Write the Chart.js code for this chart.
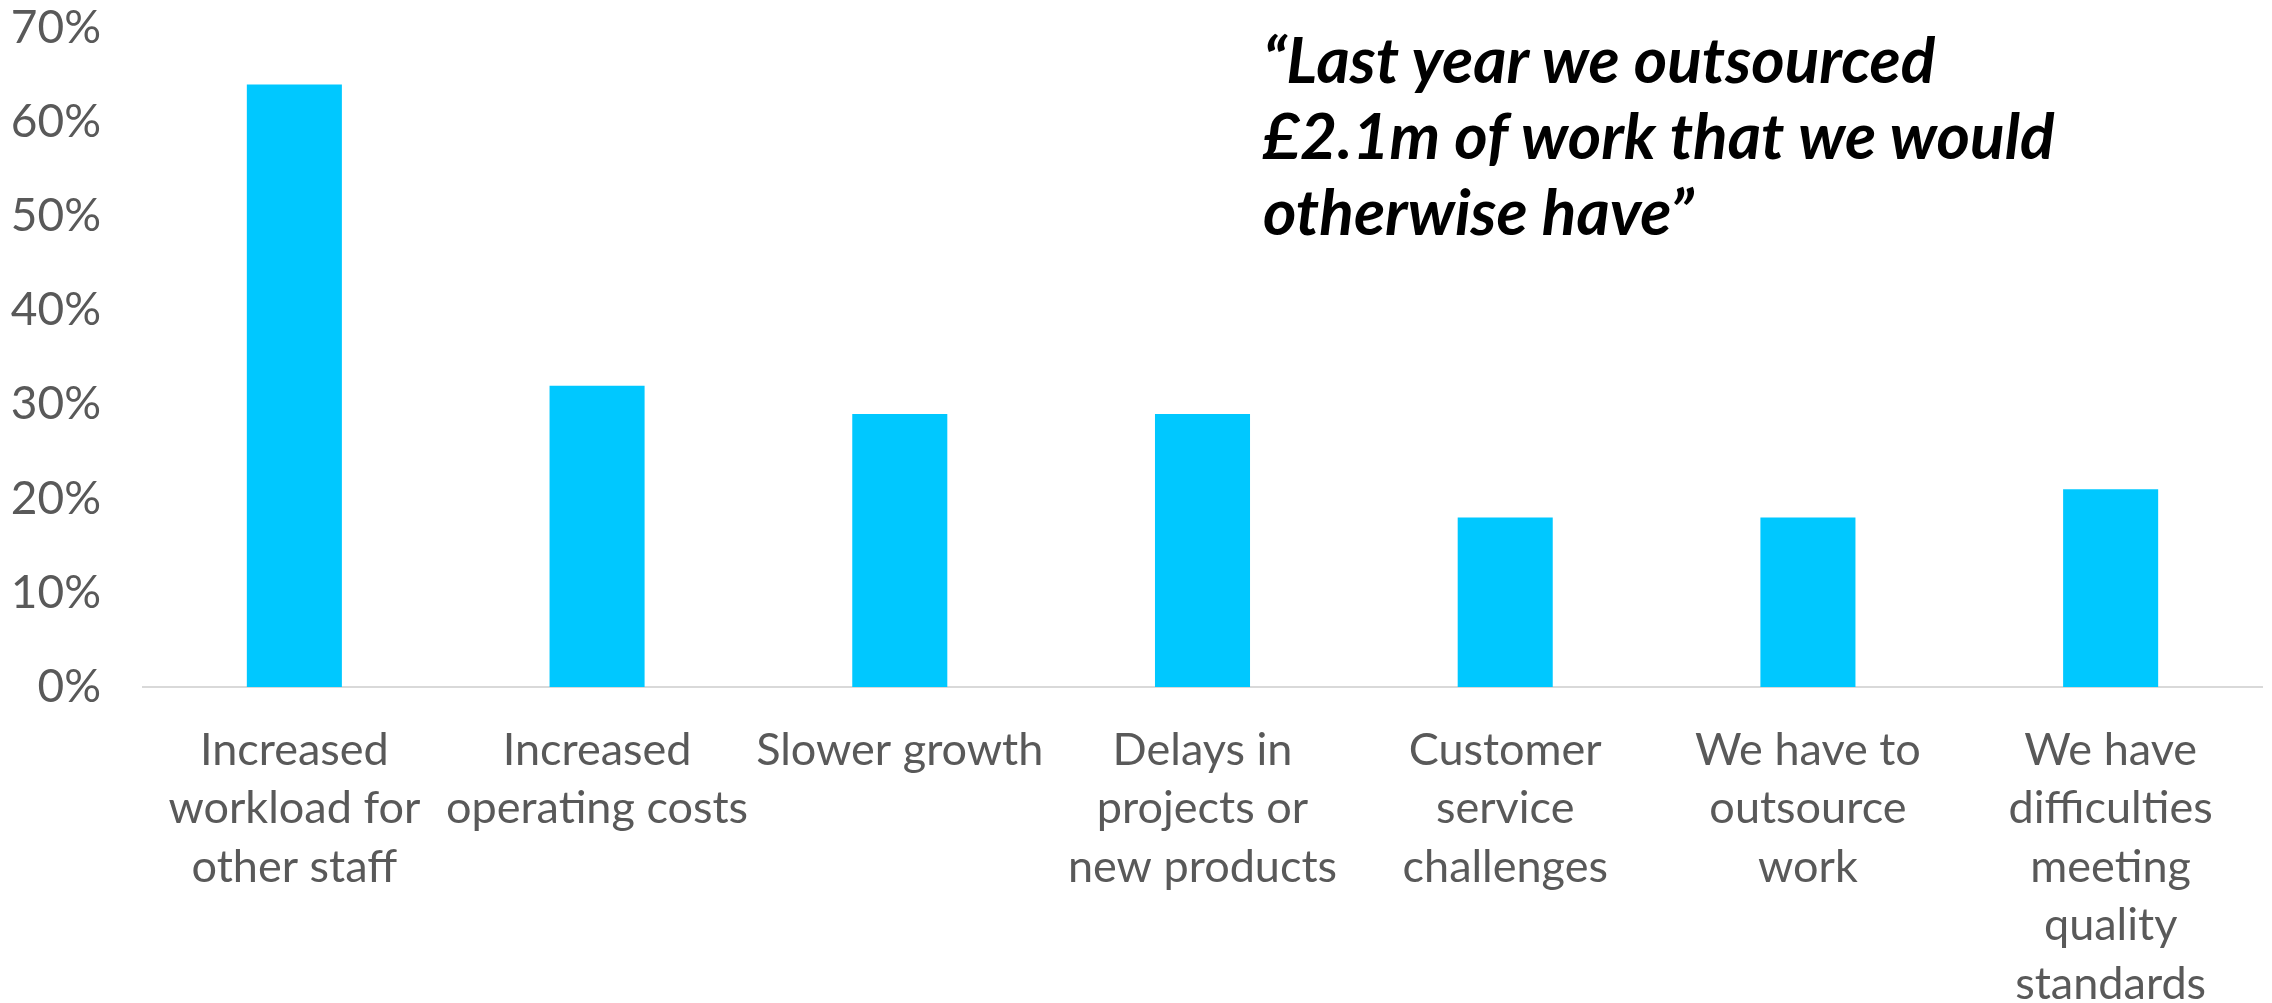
<!DOCTYPE html>
<html>
<head>
<meta charset="utf-8">
<script src="https://cdn.jsdelivr.net/npm/chart.js@4"></script>
<style>
  html, body { margin: 0; padding: 0; background: #fff; }
  #wrap { position: relative; width: 2272px; height: 1003px; }
  #quote {
    position: absolute; left: 1263px; top: 21px;
    font-family: Lato, sans-serif; font-weight: 700; font-style: italic;
    font-size: 64px; line-height: 76px; color: #000;
  }
</style>
</head>
<body>
<div id="wrap">
  <canvas id="chart" width="2272" height="1003"></canvas>
  <div id="quote">“Last year we outsourced<br>£2.1m of work that we would<br>otherwise have”</div>
</div>
<script>
// impacts of unfilled roles, share of respondents (%)
const categories = [
  ['Increased', 'workload for', 'other staff'],
  ['Increased', 'operating costs'],
  ['Slower growth'],
  ['Delays in', 'projects or', 'new products'],
  ['Customer', 'service', 'challenges'],
  ['We have to', 'outsource', 'work'],
  ['We have', 'difficulties', 'meeting', 'quality', 'standards']
]
const shares = [64, 32, 29, 29, 18, 18, 21]
const yTicks = [0, 10, 20, 30, 40, 50, 60, 70]

const labelFont = { family: 'Lato, sans-serif', size: 45, lineHeight: 1.3 }

new Chart(document.getElementById('chart'), {
  type: 'bar',
  data: {
    labels: categories,
    datasets: [{
      data: shares,
      backgroundColor: '#00C8FF',
      categoryPercentage: 1,
      barPercentage: 0.314
    }]
  },
  options: {
    responsive: false,
    animation: false,
    layout: { padding: { top: 28, right: 10, left: 0, bottom: 0 } },
    plugins: { legend: { display: false }, tooltip: { enabled: false } },
    scales: {
      x: {
        grid: { display: false, drawTicks: false },
        border: { display: true, color: '#d9d9d9', width: 2 },
        ticks: { color: '#595959', font: labelFont, padding: 34, maxRotation: 0, autoSkip: false },
        afterFit: scale => { scale.height = 316 }
      },
      y: {
        min: 0,
        max: 70,
        afterBuildTicks: scale => { scale.ticks = yTicks.map(v => ({ value: v })) },
        grid: { display: false, drawTicks: false },
        border: { display: false },
        ticks: {
          color: '#595959',
          font: { family: 'Lato, sans-serif', size: 46 },
          padding: 42,
          callback: v => v + '%'
        },
        // fixed axis width; drop the label padding so the plot can reach the top
        afterFit: scale => {
          scale.width = 143
          scale.paddingTop = 0
          scale.paddingBottom = 0
        }
      }
    }
  }
})
</script>
</body>
</html>
